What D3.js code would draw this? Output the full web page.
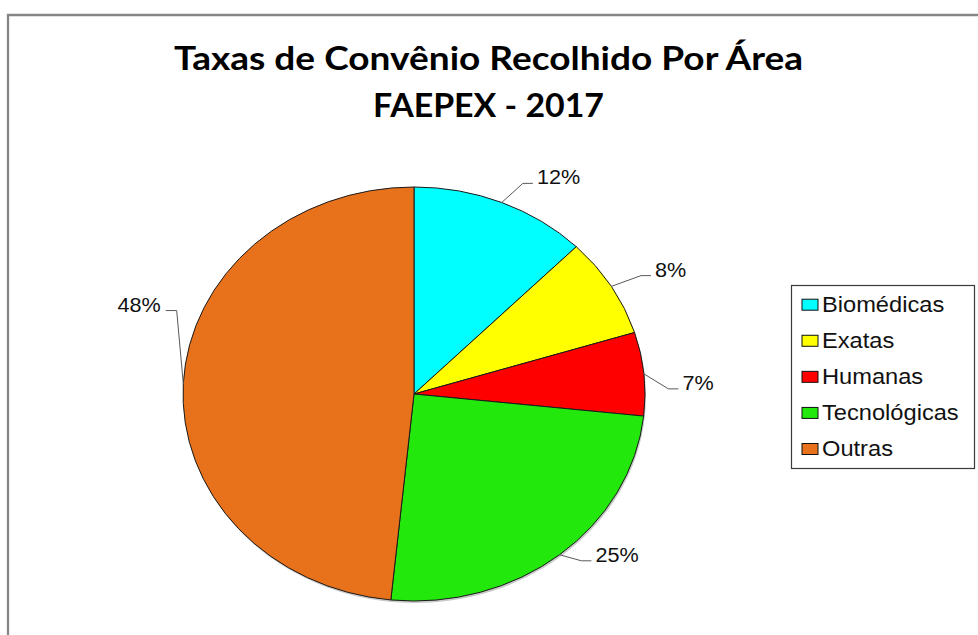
<!DOCTYPE html>
<html>
<head>
<meta charset="utf-8">
<script src="https://cdn.jsdelivr.net/npm/d3@7"></script>
<style>
	body { margin: 0; background: #fff; }
	svg { display: block; }
</style>
</head>
<body>
<svg id="chart" width="978" height="635"></svg>
<script>
// data
const categories = [ 'Biomédicas', 'Exatas', 'Humanas', 'Tecnológicas', 'Outras' ];
const shares = [ 12.4, 7.8, 6.5, 24.9, 48.4 ];
const pctLabels = [ '12%', '8%', '7%', '25%', '48%' ];
const colors = [ '#00ffff', '#ffff00', '#ff0000', '#22e80c', '#e8711c' ];
const titleLines = [ 'Taxas de Convênio Recolhido Por Área', 'FAEPEX - 2017' ];

// layout tweaks for the hand-placed data labels (Excel style)
const labelNudge = { 'Biomédicas': [ 8, 0 ], 'Humanas': [ -10, 17 ], 'Tecnológicas': [ 0, -10 ], 'Outras': [ 28, -72 ] };

const ChartView = {
	cx: 414, cy: 394,
	rx: 231, ry: 207,
	stretch: 1.11,
	svg: null,

	init: function() {
		const self = this;
		self.svg = d3.select('#chart');
		self.drawFrame();
		self.drawTitle();
		self.drawPie();
		self.drawLabels();
		self.drawLegend();
	},

	drawFrame: function() {
		const self = this;
		self.svg.append('path')
			.attr('d', 'M8,640 V15 H990')
			.style('fill', 'none')
			.style('stroke', '#868686')
			.style('stroke-width', 2.3);
	},
	drawTitle: function() {
		const self = this;
		let widths = [ 629, 231 ];
		let baselines = [ 70, 117 ];

		self.svg.selectAll('.title')
			.data(titleLines)
			.enter().append('text')
			.attr('class', 'title')
			.attr('x', 488.5)
			.attr('y', function(d, i) { return baselines[i]; })
			.attr('textLength', function(d, i) { return widths[i]; })
			.attr('lengthAdjust', 'spacingAndGlyphs')
			.style('text-anchor', 'middle')
			.style('font-family', 'Lato, "Open Sans", sans-serif')
			.style('font-weight', 'bold')
			.style('font-size', '32px')
			.style('fill', '#000')
			.text(function(d) { return d; });
	},
	drawPie: function() {
		const self = this;
		let pie = d3.pie().sort(null).value(function(d) { return d; });
		let arc = d3.arc().innerRadius(0).outerRadius(self.rx);
		let arcs = pie(shares);

		// faint shadow under the pie
		self.svg.append('ellipse')
			.attr('cx', self.cx + 1)
			.attr('cy', self.cy + 2)
			.attr('rx', self.rx)
			.attr('ry', self.ry)
			.style('fill', '#c8c8c8');

		let g = self.svg.append('g')
			.attr('transform', 'translate(' + self.cx + ',' + self.cy + ') scale(1,' + (self.ry / self.rx) + ')');

		g.selectAll('.slice')
			.data(arcs)
			.enter().append('path')
			.attr('class', 'slice')
			.attr('d', arc)
			.style('fill', function(d, i) { return colors[i]; })
			.style('stroke', '#1a1a1a')
			.style('stroke-width', 1)
			.attr('vector-effect', 'non-scaling-stroke');

		self.arcs = arcs;
	},
	drawLabels: function() {
		const self = this;
		let kx = 1.15, ky = 1.1;

		self.arcs.forEach(function(d, i) {
			let a = (d.startAngle + d.endAngle) / 2;
			let nudge = labelNudge[categories[i]] || [ 0, 0 ];
			let x0 = self.cx + self.rx * Math.sin(a);
			let y0 = self.cy - self.ry * Math.cos(a);
			let x1 = self.cx + self.rx * kx * Math.sin(a) + nudge[0];
			let y1 = self.cy - self.ry * ky * Math.cos(a) + nudge[1];
			let right = x1 >= self.cx;
			let x2 = x1 + (right ? 10 : -11);

			self.svg.append('path')
				.attr('d', 'M' + x0 + ',' + y0 + ' L' + x1 + ',' + y1 + ' L' + x2 + ',' + y1)
				.style('fill', 'none')
				.style('stroke', '#595959')
				.style('stroke-width', 1);

			self.svg.append('text')
				.attr('transform', 'translate(' + (x2 + (right ? 4 : -5)) + ',' + (y1 + 1) + ') scale(' + self.stretch + ',1)')
				.style('text-anchor', right ? 'start' : 'end')
				.style('font-family', '"Liberation Sans", Arial, sans-serif')
				.style('font-size', '19.5px')
				.style('fill', '#111')
				.text(pctLabels[i]);
		});
	},
	drawLegend: function() {
		const self = this;
		let x0 = 791, y0 = 285, w = 183, h = 183;
		let rowY = d3.scalePoint()
			.domain(categories)
			.range([ 304.7, 449 ]);

		let legend = self.svg.append('g').attr('class', 'legend');
		legend.append('rect')
			.attr('x', x0 + 0.5)
			.attr('y', y0 + 0.5)
			.attr('width', w)
			.attr('height', h)
			.style('fill', '#fff')
			.style('stroke', '#3a3a3a')
			.style('stroke-width', 1.2);

		let item = legend.selectAll('.item')
			.data(categories)
			.enter().append('g')
			.attr('class', 'item');
		item.append('rect')
			.attr('x', 802)
			.attr('y', function(d) { return rowY(d) - 5.5; })
			.attr('width', 16)
			.attr('height', 11)
			.style('fill', function(d, i) { return colors[i]; })
			.style('stroke', '#111')
			.style('stroke-width', 1);
		item.append('text')
			.attr('transform', function(d) { return 'translate(822,' + (rowY(d) + 7) + ') scale(1.1,1)'; })
			.style('font-family', '"Liberation Sans", Arial, sans-serif')
			.style('font-size', '21.5px')
			.style('fill', '#111')
			.text(function(d) { return d; });
	}
};

ChartView.init();
</script>
</body>
</html>
